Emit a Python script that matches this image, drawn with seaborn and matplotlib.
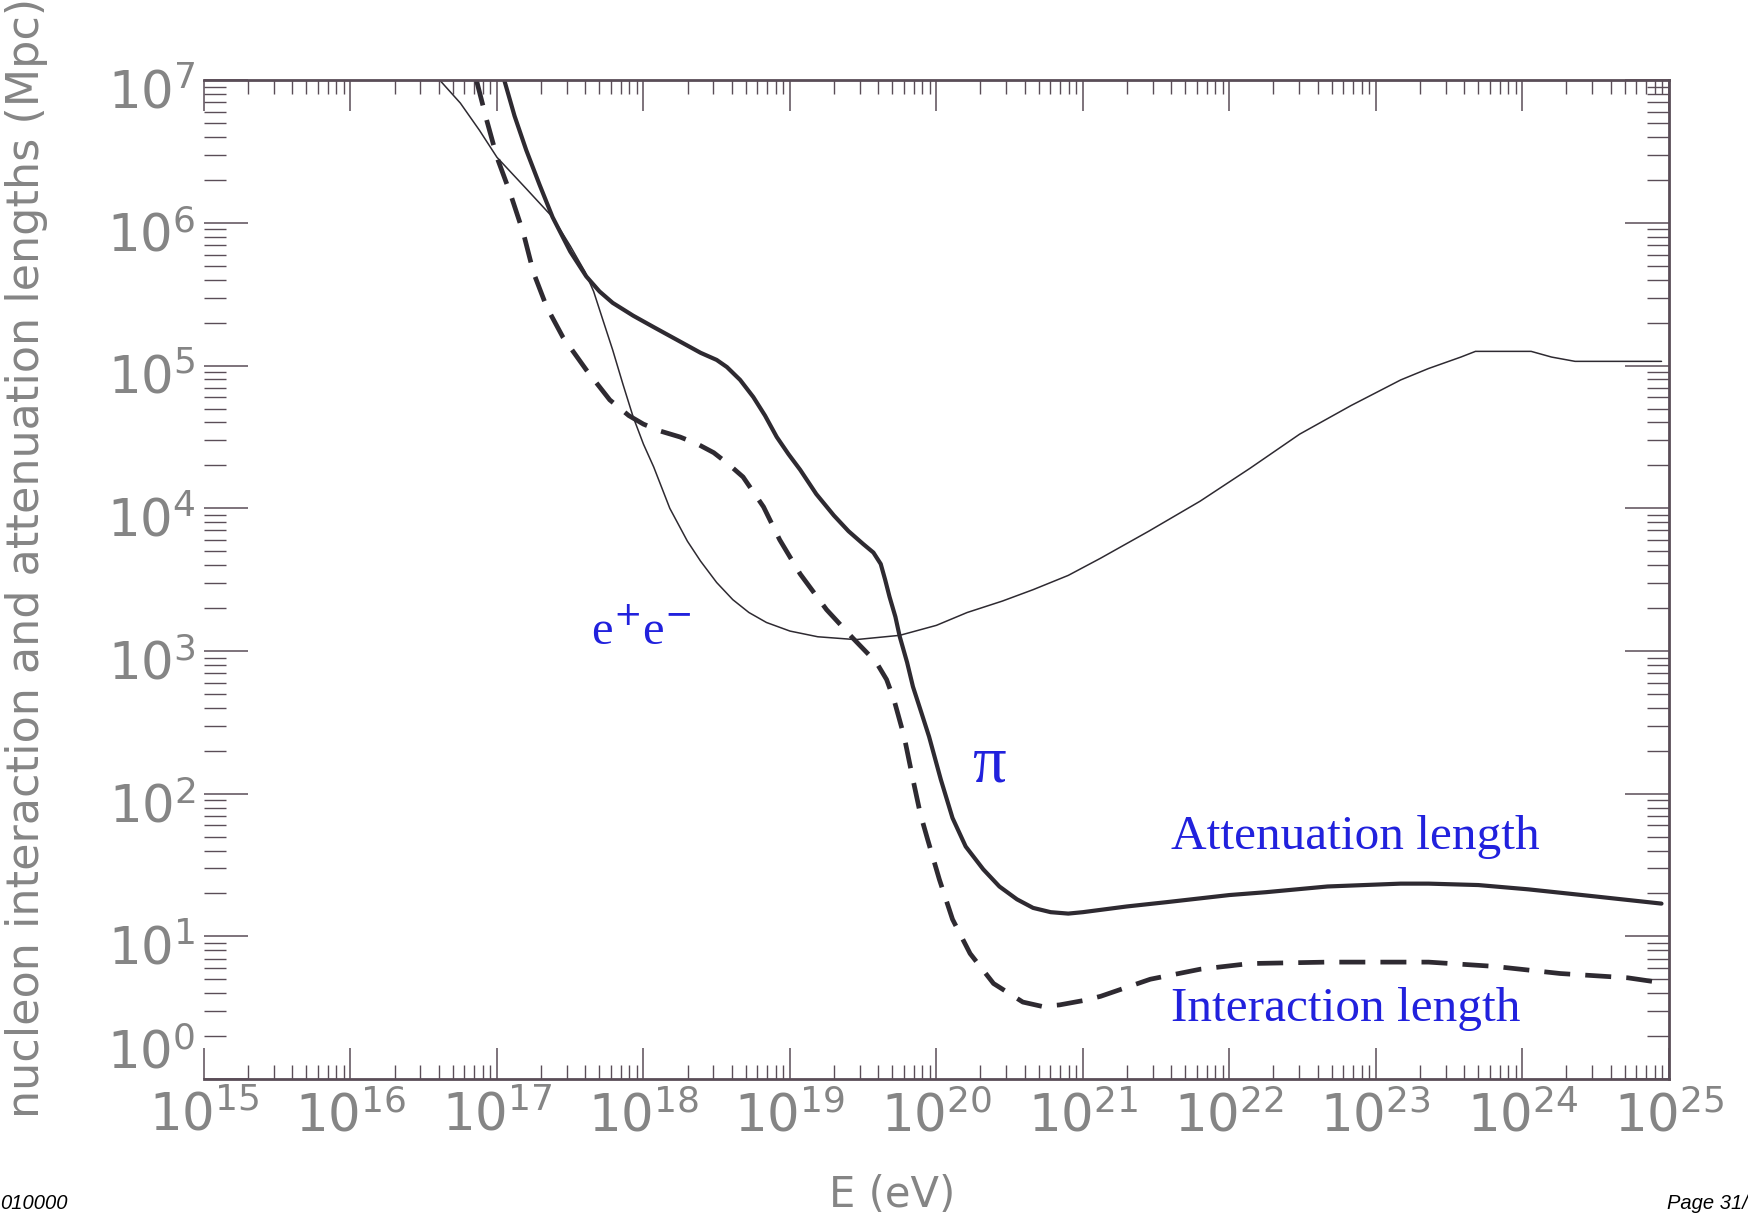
import numpy as np
import pandas as pd
import matplotlib
matplotlib.use("Agg")
import matplotlib.pyplot as plt
import matplotlib.transforms as mtransforms
import seaborn as sns
from matplotlib.ticker import LogLocator, NullFormatter

sns.set_theme(style="white")
plt.rcParams["font.family"] = ["DejaVu Sans"]
plt.rcParams["mathtext.fontset"] = "dejavusans"

# ---- data: log10(E / eV) and log10(length / Mpc) ----
att_log_e = [17.05, 17.12, 17.20, 17.29, 17.38, 17.50, 17.61, 17.70, 17.79, 17.93,
             18.07, 18.23, 18.39, 18.50, 18.57, 18.66, 18.75, 18.83, 18.91, 18.99,
             19.07, 19.18, 19.30, 19.40, 19.50, 19.57, 19.62, 19.65, 19.68, 19.72,
             19.75, 19.80, 19.84, 19.90, 19.95, 20.03, 20.11, 20.20, 20.32, 20.43,
             20.55, 20.66, 20.78, 20.90, 21.00, 21.30, 21.57, 22.00, 22.25, 22.67,
             23.17, 23.36, 23.70, 24.04, 24.50, 24.95]
att_log_l = [7.00, 6.75, 6.51, 6.27, 6.04, 5.80, 5.625, 5.52, 5.44, 5.35,
             5.27, 5.18, 5.09, 5.04, 4.99, 4.90, 4.78, 4.65, 4.50, 4.38,
             4.27, 4.10, 3.95, 3.84, 3.75, 3.69, 3.61, 3.50, 3.38, 3.24,
             3.10, 2.92, 2.75, 2.56, 2.40, 2.10, 1.83, 1.63, 1.47, 1.35,
             1.26, 1.20, 1.17, 1.16, 1.17, 1.21, 1.24, 1.29, 1.31, 1.35,
             1.37, 1.37, 1.36, 1.33, 1.28, 1.23]

int_log_e = [16.86, 16.93, 17.00, 17.09, 17.18, 17.25, 17.34, 17.45, 17.61, 17.77,
             17.90, 18.00, 18.12, 18.25, 18.37, 18.48, 18.58, 18.68, 18.82, 18.93,
             19.07, 19.25, 19.43, 19.59, 19.66, 19.71, 19.78, 19.84, 19.89, 19.94,
             20.02, 20.11, 20.23, 20.39, 20.59, 20.72, 20.84, 21.00, 21.12, 21.46,
             21.80, 22.14, 22.67, 23.17, 23.36, 23.81, 24.26, 24.72, 24.92]
int_log_l = [7.00, 6.72, 6.46, 6.21, 5.93, 5.65, 5.41, 5.20, 4.97, 4.76,
             4.65, 4.59, 4.54, 4.50, 4.45, 4.39, 4.31, 4.22, 4.01, 3.78,
             3.54, 3.29, 3.09, 2.92, 2.80, 2.66, 2.40, 2.10, 1.86, 1.68,
             1.40, 1.12, 0.88, 0.67, 0.54, 0.51, 0.52, 0.55, 0.58, 0.70,
             0.77, 0.81, 0.82, 0.82, 0.82, 0.79, 0.74, 0.71, 0.68]

pair_log_e = [16.61, 16.75, 16.88, 17.00, 17.10, 17.20, 17.29, 17.38, 17.50, 17.60,
              17.66, 17.72, 17.79, 17.86, 17.93, 18.00, 18.07, 18.18, 18.30, 18.39,
              18.50, 18.61, 18.72, 18.84, 19.00, 19.19, 19.45, 19.75, 20.00, 20.21,
              20.45, 20.66, 20.90, 21.12, 21.45, 21.80, 22.14, 22.48, 22.83, 23.17,
              23.36, 23.58, 23.68, 24.06, 24.20, 24.36, 24.95]
pair_log_l = [7.00, 6.84, 6.65, 6.46, 6.35, 6.24, 6.14, 6.04, 5.84, 5.66,
              5.52, 5.33, 5.11, 4.87, 4.64, 4.45, 4.29, 4.00, 3.77, 3.63,
              3.48, 3.36, 3.27, 3.20, 3.14, 3.10, 3.08, 3.11, 3.18, 3.27,
              3.35, 3.43, 3.53, 3.65, 3.84, 4.05, 4.28, 4.52, 4.72, 4.90,
              4.98, 5.06, 5.10, 5.10, 5.06, 5.03, 5.03]

x_decades = list(range(15, 26))
y_decades = list(range(0, 8))

line_col = "#2e2a31"
axis_col = "#5a4d57"
label_col = "#858585"
blue = "#2121dd"

fig = plt.figure(figsize=(17.48, 12.14), dpi=100)
ax = fig.add_axes([0.1167, 0.1111, 0.838, 0.8228])
ax.set_xscale("log")
ax.set_yscale("log")

att = pd.DataFrame({"E": np.power(10.0, att_log_e), "L": np.power(10.0, att_log_l)})
inter = pd.DataFrame({"E": np.power(10.0, int_log_e), "L": np.power(10.0, int_log_l)})
pair = pd.DataFrame({"E": np.power(10.0, pair_log_e), "L": np.power(10.0, pair_log_l)})

sns.lineplot(data=pair, x="E", y="L", ax=ax, sort=False, estimator=None,
             color=line_col, linewidth=1.1)
sns.lineplot(data=att, x="E", y="L", ax=ax, sort=False, estimator=None,
             color=line_col, linewidth=3.0)
sns.lineplot(data=inter, x="E", y="L", ax=ax, sort=False, estimator=None,
             color=line_col, linewidth=3.4)
ax.lines[-1].set_dashes((5.5, 3.2))
ax.lines[-1].set_dash_capstyle("butt")

ax.set_xlim(1e15, 1e25)
ax.set_ylim(1e0, 1e7)

# ticks
ax.xaxis.set_minor_locator(LogLocator(base=10, subs=np.arange(2, 10), numticks=200))
ax.yaxis.set_minor_locator(LogLocator(base=10, subs=np.arange(2, 10), numticks=200))
ax.set_xticks([10.0 ** d for d in x_decades])
ax.set_yticks([10.0 ** d for d in y_decades])
ax.set_xticklabels([f"$10^{{{d}}}$" for d in x_decades])
ax.set_yticklabels([f"$10^{{{d}}}$" for d in y_decades])
ax.xaxis.set_minor_formatter(NullFormatter())
ax.yaxis.set_minor_formatter(NullFormatter())

ax.tick_params(axis="x", which="major", direction="in", length=22, width=1.1,
               top=True, bottom=True, color=axis_col, labelcolor=label_col,
               labelsize=37, pad=9)
ax.tick_params(axis="x", which="minor", direction="in", length=10, width=1.0,
               top=True, bottom=True, color=axis_col)
ax.tick_params(axis="y", which="major", direction="in", length=32, width=1.1,
               left=True, right=True, color=axis_col, labelcolor=label_col,
               labelsize=37, pad=6)
ax.tick_params(axis="y", which="minor", direction="in", length=16, width=1.0,
               left=True, right=True, color=axis_col)

# y labels hang just below their ticks; the lowest one sits above the x labels
lift = mtransforms.ScaledTranslation(0, 8 / 72, fig.dpi_scale_trans)
ylabels = ax.get_yticklabels()
ylabels[0].set_va("bottom")
for lab in ylabels[1:]:
    lab.set_va("top")
    lab.set_transform(lab.get_transform() + lift)

for side in ["top", "bottom", "right"]:
    ax.spines[side].set_visible(True)
    ax.spines[side].set_color(axis_col)
    ax.spines[side].set_linewidth(2.0)
ax.spines["left"].set_visible(False)
ax.grid(False)

ax.set_xlabel("E (eV)", fontsize=30, color=label_col)
ax.xaxis.set_label_coords(0.47, -0.095)
ax.set_ylabel("nucleon interaction and attenuation lengths (Mpc)",
              fontsize=32, color=label_col)
ax.yaxis.label.set_va("center")
ax.yaxis.set_label_coords(-0.121, 0.522)

# curve annotations
serif = ["Liberation Serif", "DejaVu Serif"]
ax.text(10 ** 17.64, 10 ** 3.13, "e$^{+}$e$^{-}$", family=serif, fontsize=35,
        color=blue, ha="left", va="center")
ax.text(10 ** 20.36, 10 ** 2.2, "\u03c0", family=serif, fontsize=48,
        color=blue, ha="center", va="center")
ax.text(10 ** 21.6, 10 ** 1.70, "Attenuation length", family=serif, fontsize=35.5,
        color=blue, ha="left", va="center")
ax.text(10 ** 21.6, 10 ** 0.49, "Interaction length", family=serif, fontsize=35.5,
        color=blue, ha="left", va="center")

# page footer
fig.text(0.0, 0.009, "010000", family=["Liberation Sans", "DejaVu Sans"],
         style="italic", fontsize=14.5, color="black", ha="left", va="center")
fig.text(1.0, 0.009, "Page 31/", family=["Liberation Sans", "DejaVu Sans"],
         style="italic", fontsize=14.5, color="black", ha="right", va="center")

fig.savefig("out.png", dpi=100, facecolor="white")
